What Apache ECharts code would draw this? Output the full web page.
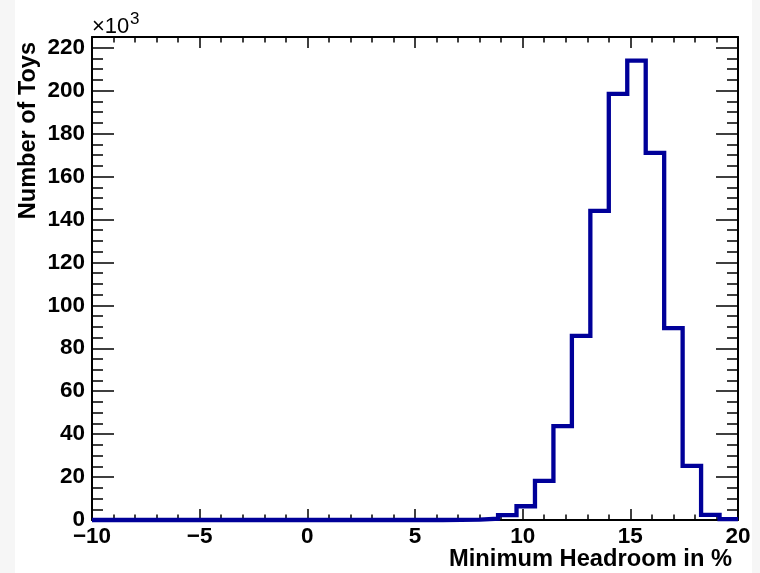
<!DOCTYPE html>
<html>
<head>
<meta charset="utf-8">
<script src="https://cdn.jsdelivr.net/npm/echarts@6/dist/echarts.min.js"></script>
<style>
html,body{margin:0;padding:0;background:#fff;}
#c{width:760px;height:573px;}
</style>
</head>
<body>
<div id="c"></div>
<script>
// Histogram definition
const histLow = -10;
const histHigh = 20;
// bin contents in units of 10^3 (35 bins from -10 to 20)
const counts = [
  0, 0, 0, 0, 0, 0, 0, 0, 0, 0,
  0, 0, 0, 0, 0, 0, 0, 0, 0, 0.05,
  0.2, 0.6, 2.3, 6.4, 18.2, 43.7, 85.8, 144, 198.5, 214,
  171, 89.4, 25.2, 2.4, 0.4
];
const xTitle = 'Minimum Headroom in %';
const yTitle = 'Number of Toys';
const yMax = 225;

const nBins = counts.length;
const bw = (histHigh - histLow) / nBins;
const stepData = counts.map((v, i) => [histLow + i * bw, v]);
stepData.push([histHigh, counts[nBins - 1]]);

const FONT = "'Liberation Sans', Arial, Helvetica, sans-serif";
const black = '#000';
const labelStyle = { color: black, fontFamily: FONT, fontWeight: 'bold', fontSize: 22.5 };

function xAxisDef(pos, showLabel) {
  return {
    type: 'value', position: pos, min: histLow, max: histHigh, interval: 5,
    axisLine: { show: true, onZero: false, lineStyle: { color: black, width: 2 } },
    axisTick: { show: true, inside: true, length: 11, lineStyle: { color: black, width: 1.5 } },
    minorTick: { show: true, splitNumber: 5, length: 5.5, lineStyle: { color: black, width: 1.5 } },
    splitLine: { show: false }, minorSplitLine: { show: false },
    axisLabel: Object.assign({ show: showLabel, margin: 5,
      formatter: v => String(v).replace('-', '\u2212') }, labelStyle)
  };
}
function yAxisDef(pos, major, showLabel) {
  return {
    type: 'value', position: pos, min: 0, max: yMax, interval: major ? 20 : 5,
    axisLine: { show: major, onZero: false, lineStyle: { color: black, width: 2 } },
    axisTick: { show: true, inside: true, length: major ? 22 : 11, lineStyle: { color: black, width: 1.5 } },
    splitLine: { show: false },
    axisLabel: Object.assign({ show: showLabel, margin: 7,
      formatter: v => (v % 20 === 0 ? String(v) : '') }, labelStyle)
  };
}

const chart = echarts.init(document.getElementById('c'), null, { renderer: 'canvas' });
chart.setOption({
  animation: false,
  backgroundColor: '#fff',
  grid: { left: 92, top: 37, right: 22, bottom: 53, containLabel: false },
  xAxis: [xAxisDef('bottom', true), xAxisDef('top', false)],
  yAxis: [yAxisDef('left', true, true), yAxisDef('left', false, false),
          yAxisDef('right', true, false), yAxisDef('right', false, false)],
  series: [{
    type: 'line', xAxisIndex: 0, yAxisIndex: 0, step: 'end', data: stepData,
    symbol: 'none', clip: false, z: 5,
    lineStyle: { color: '#000099', width: 4.3, join: 'miter' }
  }],
  graphic: [
    { type: 'rect', shape: { x: 0, y: 0, width: 15, height: 573 }, style: { fill: '#f6f6f6' }, z: -10, silent: true },
    { type: 'rect', shape: { x: 752, y: 0, width: 8, height: 573 }, style: { fill: '#f6f6f6' }, z: -10, silent: true },
    { type: 'text', x: 732, y: 559.5, style: { text: xTitle, textAlign: 'right', textVerticalAlign: 'middle',
        font: "bold 23.7px " + FONT, fill: black } },
    { type: 'text', x: 29, y: 42, rotation: Math.PI / 2, style: { text: yTitle, textAlign: 'right', textVerticalAlign: 'middle',
        font: "bold 23.5px " + FONT, fill: black } },
    { type: 'text', x: 92, y: 27, style: { text: '\u00d710', textAlign: 'left', textVerticalAlign: 'middle',
        font: "22px " + FONT, fill: black } },
    { type: 'text', x: 130, y: 19, style: { text: '3', textAlign: 'left', textVerticalAlign: 'middle',
        font: "17px " + FONT, fill: black } }
  ]
});
</script>
</body>
</html>
